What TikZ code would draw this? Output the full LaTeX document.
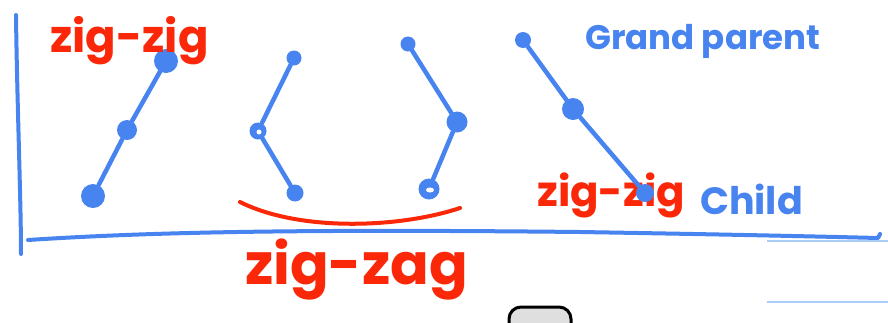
\documentclass[tikz,border=0pt]{standalone}
\usepackage{fontspec}
\setmainfont{Poppins}
\definecolor{penblue}{RGB}{72,132,240}
\definecolor{penred}{RGB}{250,40,8}
\definecolor{paleblue}{RGB}{170,205,245}
\tikzset{
  vtx/.style={circle, fill=penblue, inner sep=0pt, minimum size=#1},
  edge/.style={draw=penblue, line width=4.5pt, line cap=round},
  axisline/.style={draw=penblue, line width=4pt, line cap=round, line join=round},
  redtext/.style={text=penred, inner sep=0pt},
  bluetext/.style={text=penblue, inner sep=0pt},
}
\begin{document}
\begin{tikzpicture}[x=1pt, y=-1pt]
\clip (0,0) rectangle (888,322);
\fill[white] (0,0) rectangle (888,322);

% axes
\draw[axisline] (16,15) .. controls (17,100) and (21,200) .. (21,254);
\draw[axisline] (28,240) .. controls (150,232) and (300,229) .. (580,232)
  .. controls (700,234) and (800,236) .. (878,238) -- (880,234);

% pale lines
\draw[paleblue, line width=1.2pt] (767,241) -- (888,241);
\draw[paleblue, line width=1.2pt] (767,302) -- (888,302);

% labels below the trees
\node[redtext, anchor=base west, font=\bfseries\fontsize{42}{46}\selectfont] (lzz2) at (537,206) {zig-zig};
\node[bluetext, anchor=base west, font=\bfseries\fontsize{34}{38}\selectfont] (lgp) at (585,49) {Grand parent};
\node[bluetext, anchor=base west, font=\bfseries\fontsize{38}{40}\selectfont] (lch) at (700,214) {Child};

% tree 1 (zig-zig)
\node[vtx=24pt] (a1) at (166,61) {};
\node[vtx=20pt] (a2) at (127,130) {};
\node[vtx=24pt] (a3) at (93,196) {};
\draw[edge] (a1) -- (a2);
\draw[edge] (a2) -- (a3);

% tree 2
\node[vtx=15pt] (b1) at (294,58) {};
\node[vtx=17pt] (b2) at (258,131) {};
\node[vtx=17pt] (b3) at (295,193) {};
\draw[edge] (b1) -- (b2);
\draw[edge] (b2) -- (b3);
\fill[white] (259,132) circle (2.5pt);

% tree 3
\node[vtx=15pt] (c1) at (408,44) {};
\node[vtx=21pt] (c2) at (457,122) {};
\node[vtx=21pt] (c3) at (429,189) {};
\draw[edge] (c1) -- (c2);
\draw[edge] (c2) -- (c3);
\fill[white] (430,190) ellipse (4pt and 2.5pt);

% tree 4
\node[vtx=16pt] (d1) at (523,40) {};
\node[vtx=22pt] (d2) at (573,109) {};
\node[vtx=18pt] (d3) at (645,193) {};
\draw[edge] (d1) -- (d2);
\draw[edge] (d2) -- (d3);

% red arc under tree 2/3
\draw[penred, line width=4pt, line cap=round] (240,202) .. controls (300,232) and (400,228) .. (460,208);

% labels
\node[redtext, anchor=base west, font=\bfseries\fontsize{45}{48}\selectfont] (lzz) at (50,52) {zig-zig};
\node[redtext, anchor=base west, font=\bfseries\fontsize{57}{62}\selectfont] (lza) at (245,284) {zig-zag};

% cut-off icon at bottom
\draw[black, line width=3pt, fill=gray!25, rounded corners=12pt] (509,340) rectangle (571,307);
\end{tikzpicture}
\end{document}
